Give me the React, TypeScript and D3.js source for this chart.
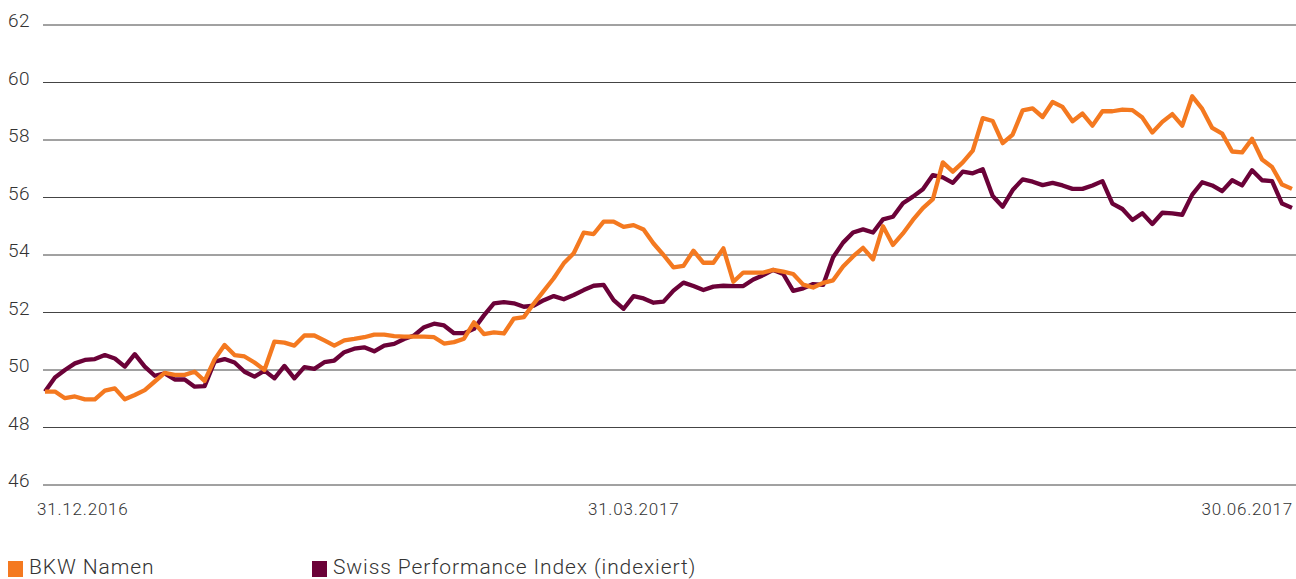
import React from "react";
import { scaleLinear, line } from "d3";

const width = 1296, height = 579;

// BKW Namen (orange), one value per trading day 30.12.2016 - 30.06.2017
const bkw = [
  49.25, 49.25, 49.02, 49.08, 48.98, 48.98, 49.28, 49.36, 48.98, 49.13, 49.3, 49.6, 49.9, 49.83, 49.83, 49.94, 49.62, 50.37, 50.87, 50.52, 50.47, 50.26, 50.0, 50.99, 50.95, 50.85,
  51.2, 51.2, 51.03, 50.85, 51.03, 51.08, 51.14, 51.23, 51.23, 51.18, 51.16, 51.16, 51.16, 51.14, 50.92, 50.97, 51.09, 51.66, 51.25, 51.31, 51.27, 51.79, 51.84, 52.31, 52.75,
  53.19, 53.71, 54.06, 54.78, 54.73, 55.16, 55.16, 54.98, 55.04, 54.89, 54.4, 54.0, 53.57, 53.62, 54.15, 53.73, 53.73, 54.23, 53.07, 53.39, 53.39, 53.39, 53.48, 53.42, 53.34,
  52.97, 52.87, 53.03, 53.12, 53.6, 53.95, 54.25, 53.85, 55.0, 54.35, 54.75, 55.22, 55.63, 55.94, 57.22, 56.9, 57.22, 57.63, 58.76, 58.66, 57.89, 58.19, 59.03, 59.1, 58.8,
  59.32, 59.15, 58.65, 58.92, 58.5, 59.0, 59.0, 59.06, 59.04, 58.78, 58.26, 58.63, 58.9, 58.5, 59.52, 59.08, 58.42, 58.22, 57.6, 57.57, 58.04, 57.32, 57.06, 56.45, 56.3,
];

// Swiss Performance Index (indexiert)
const spi = [
  49.25, 49.74, 50.0, 50.23, 50.35, 50.38, 50.52, 50.4, 50.12, 50.55, 50.12, 49.8, 49.88, 49.67, 49.67, 49.42, 49.44, 50.29, 50.38, 50.26, 49.94, 49.77, 49.98, 49.71, 50.14, 49.71,
  50.1, 50.04, 50.27, 50.33, 50.62, 50.74, 50.79, 50.65, 50.85, 50.91, 51.08, 51.2, 51.49, 51.61, 51.55, 51.28, 51.28, 51.43, 51.9, 52.32, 52.36, 52.32, 52.2, 52.24, 52.43,
  52.57, 52.46, 52.61, 52.78, 52.93, 52.96, 52.43, 52.13, 52.57, 52.49, 52.34, 52.38, 52.76, 53.04, 52.92, 52.78, 52.9, 52.93, 52.92, 52.92, 53.15, 53.3, 53.48, 53.34, 52.75,
  52.84, 52.99, 52.96, 53.92, 54.43, 54.78, 54.89, 54.78, 55.24, 55.33, 55.8, 56.03, 56.29, 56.78, 56.7, 56.51, 56.9, 56.84, 56.98, 56.05, 55.68, 56.26, 56.63, 56.55, 56.43,
  56.51, 56.42, 56.3, 56.3, 56.42, 56.57, 55.79, 55.6, 55.22, 55.45, 55.08, 55.47, 55.45, 55.4, 56.1, 56.53, 56.42, 56.22, 56.6, 56.42, 56.95, 56.6, 56.57, 55.79, 55.64,
];

const yTicks = [46, 48, 50, 52, 54, 56, 58, 60, 62];
const dateLabels = ["31.12.2016", "31.03.2017", "30.06.2017"];
const dateIdx = [0, 63, 125];
const seriesNames = ["BKW Namen", "Swiss Performance Index (indexiert)"];
const colors = ["#f47920", "#6b0238"];

const font = "Roboto, 'DejaVu Sans', sans-serif";

export default function App() {
  const x = scaleLinear().domain([0, bkw.length - 1]).range([45, 1292]);
  const y = scaleLinear().domain([46, 62]).range([485, 25]);

  const path = line<number>()
    .x((_, i) => x(i))
    .y(d => y(d));

  const anchors = ["start", "end", "end"];
  const dx = [-8, 6, 1];

  return (
    <svg width={width} height={height}
      style={{ position: "absolute", left: 0, top: 0, display: "block", background: "#fff" }}>
      {yTicks.map(t => (
        <g key={t}>
          <line x1={43} x2={width} y1={y(t)} y2={y(t)} stroke="#444" strokeWidth={1} />
          <text x={8} y={y(t) + 2} fontFamily={font} fontSize={19} fontWeight={300} fill="#333"
            letterSpacing={0.5}>{t}</text>
        </g>
      ))}

      {dateLabels.map((d, i) => (
        <text key={d} x={x(dateIdx[i]) + dx[i]} y={515} textAnchor={anchors[i] as any}
          fontFamily={font} fontSize={17} fontWeight={300} fill="#333" letterSpacing={0.8}>{d}</text>
      ))}

      <path d={path(spi) || ""} fill="none" stroke={colors[1]} strokeWidth={4.3} strokeLinejoin="round" />
      <path d={path(bkw) || ""} fill="none" stroke={colors[0]} strokeWidth={4.3} strokeLinejoin="round" />

      {seriesNames.map((s, i) => {
        const lx = i === 0 ? 8 : 312;
        return (
          <g key={s}>
            <rect x={lx} y={561} width={15} height={16} fill={colors[i]} />
            <text x={lx + 21} y={574} fontFamily={font} fontSize={21} fontWeight={300} fill="#333"
              letterSpacing={0.9}>{s}</text>
          </g>
        );
      })}
    </svg>
  );
}
